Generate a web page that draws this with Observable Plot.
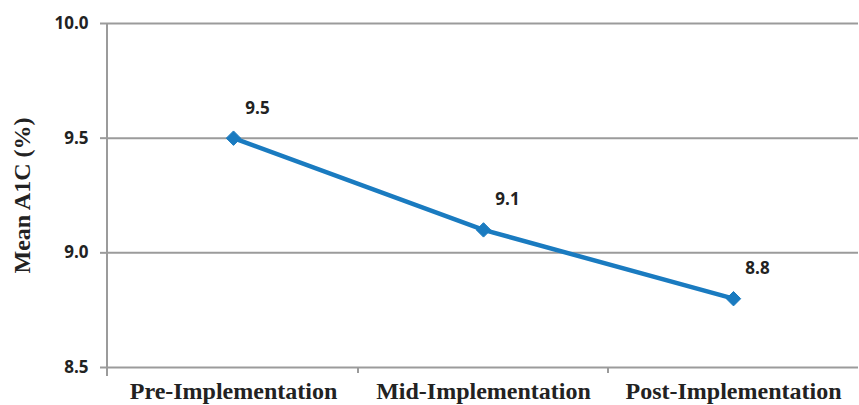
<!DOCTYPE html>
<html>
<head>
<meta charset="utf-8">
<script src="https://cdn.jsdelivr.net/npm/d3@7"></script>
<script src="https://cdn.jsdelivr.net/npm/@observablehq/plot@0.6"></script>
<style>
  html, body { margin: 0; padding: 0; background: #fff; }
  #chart svg { display: block; }
</style>
</head>
<body>
<div id="chart"></div>
<script>
const categories = ["Pre-Implementation", "Mid-Implementation", "Post-Implementation"];
const values = [9.5, 9.1, 8.8];
const yTicks = [8.5, 9.0, 9.5, 10.0];
const yTitle = "Mean A1C (%)";

const data = categories.map((c, i) => ({category: c, value: values[i]}));
const lineColor = "#1a7bc0";
const gridColor = "#9b9b9b";

const chart = Plot.plot({
  width: 859,
  height: 405,
  marginLeft: 107,
  marginRight: 1,
  marginTop: 23,
  marginBottom: 38,
  style: {background: "#fff"},
  x: {domain: categories, type: "band", padding: 0},
  y: {domain: [8.5, 10.0], ticks: yTicks},
  marks: [
    Plot.ruleY(yTicks, {stroke: gridColor, strokeWidth: 2}),
    Plot.axisY({
      ticks: yTicks,
      tickFormat: d3.format(".1f"),
      tickSize: 7,
      tickPadding: 12,
      stroke: gridColor,
      strokeWidth: 2,
      label: null,
      fontSize: 17,
      fontWeight: "bold",
      fontFamily: "Open Sans, sans-serif",
      color: "#222"
    }),
    Plot.axisX({
      tickSize: 0,
      tickPadding: 14,
      label: null,
      fontSize: 24,
      fontWeight: "bold",
      fontFamily: "Liberation Serif, serif",
      color: "#222"
    }),
    (index, scales, values_, dims) => {
      const g = d3.create("svg:g").attr("stroke", gridColor).attr("stroke-width", 2);
      const x = scales.x, y = scales.y;
      const top = y(10.0), bottom = y(8.5);
      g.append("line").attr("x1", dims.marginLeft).attr("x2", dims.marginLeft)
        .attr("y1", top).attr("y2", bottom + 9);
      for (const c of categories.slice(1)) {
        const xv = x(c);
        g.append("line").attr("x1", xv).attr("x2", xv).attr("y1", bottom).attr("y2", bottom + 6);
      }
      return g.node();
    },
    Plot.line(data, {x: "category", y: "value", stroke: lineColor, strokeWidth: 4.5}),
    Plot.dot(data, {x: "category", y: "value", symbol: "diamond2", r: 6.5, fill: lineColor, stroke: lineColor, strokeWidth: 1}),
    Plot.text(data, {
      x: "category", y: "value", text: d => d3.format(".1f")(d.value),
      dx: 24, dy: -30, fontSize: 17, fontWeight: "bold",
      fontFamily: "Open Sans, sans-serif", fill: "#222"
    }),
    Plot.text([yTitle], {
      frameAnchor: "left", textAnchor: "middle", text: d => d, rotate: -90, dx: -85,
      fontSize: 24, fontWeight: "bold", fontFamily: "Liberation Serif, serif", fill: "#222"
    })
  ]
});
document.getElementById("chart").append(chart);
</script>
</body>
</html>
